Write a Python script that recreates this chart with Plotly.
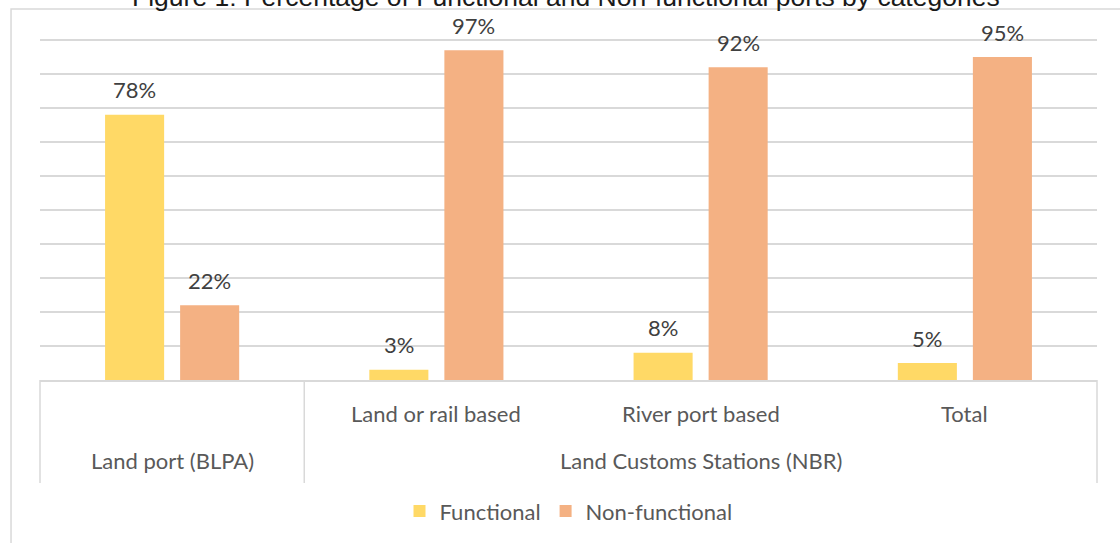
import plotly.graph_objects as go

# Categorias (nivel interno) e grupos (nivel externo)
CATEGORIAS = ["Land port (BLPA)", "Land or rail based", "River port based", "Total"]
ROTULOS_INTERNOS = ["", "Land or rail based", "River port based", "Total"]
GRUPOS = ["Land port (BLPA)", "Land Customs Stations (NBR)"]

FUNCIONAL = [78, 3, 8, 5]
NAO_FUNCIONAL = [22, 97, 92, 95]

COR_FUNC = "#FFD966"
COR_NAO_FUNC = "#F4B183"
FONTE = "Lato"
GRID = "#D9D9D9"

fig = go.Figure()
anotacoes = []
for nome, valores, cor, desloc in [
    ("Functional", FUNCIONAL, COR_FUNC, -37.5),
    ("Non-functional", NAO_FUNCIONAL, COR_NAO_FUNC, 37.5),
]:
    fig.add_trace(
        go.Bar(
            x=CATEGORIAS,
            y=valores,
            name=nome,
            marker=dict(color=cor, line=dict(width=0)),
        )
    )
    # rotulos de dados um pouco acima das barras, como no original
    for i, v in enumerate(valores):
        anotacoes.append(dict(x=i, y=v, xref="x", yref="y", text=f"{v}%",
                              showarrow=False, xshift=desloc, yshift=25,
                              yanchor="middle",
                              font=dict(family=FONTE, size=22, color="#404040")))

# rotulos do eixo x (dois niveis)
fonte_eixo = dict(family=FONTE, size=22, color="#595959")
for i, rot in enumerate(ROTULOS_INTERNOS):
    if rot:
        anotacoes.append(dict(x=i, y=-0.097, xref="x", yref="paper", text=rot,
                              showarrow=False, yanchor="middle", font=fonte_eixo))
anotacoes.append(dict(x=0, y=-0.235, xref="x", yref="paper", text=GRUPOS[0],
                      showarrow=False, yanchor="middle", font=fonte_eixo))
anotacoes.append(dict(x=2, y=-0.235, xref="x", yref="paper", text=GRUPOS[1],
                      showarrow=False, yanchor="middle", font=fonte_eixo))
anotacoes.append(dict(x=0.498, y=1.073, xref="paper", yref="paper",
                      text="Figure 1: Percentage of Functional and Non-functional ports by categories",
                      showarrow=False, yanchor="bottom",
                      font=dict(family="Liberation Sans", size=26.5, color="#1a1a1a")))

# linhas divisorias do eixo e moldura
linhas = [
    dict(type="line", xref="paper", yref="paper", x0=x, x1=x, y0=0, y1=-0.302,
         line=dict(color=GRID, width=1.5))
    for x in [0, 0.25, 1]
]
linhas.append(dict(type="rect", xref="paper", yref="paper", x0=-0.0274, x1=1.03,
                   y0=-0.5, y1=1.088, line=dict(color=GRID, width=1.5)))

fig.update_layout(
    width=1120,
    height=543,
    margin=dict(l=40, r=23, t=39, b=162),
    plot_bgcolor="white",
    paper_bgcolor="white",
    barmode="group",
    bargap=0.432,
    bargroupgap=0.213,
    showlegend=True,
    legend=dict(orientation="h", x=0.5, xanchor="center", xref="paper",
                y=-0.381, yanchor="middle",
                font=dict(family=FONTE, size=22, color="#595959"),
                itemwidth=30),
    xaxis=dict(showticklabels=False, showline=True, linecolor=GRID, linewidth=1.5,
               ticks="", showgrid=False),
    # range um pouco acima de 100 para a linha de grade do topo aparecer
    yaxis=dict(range=[0, 100.3], tick0=0, dtick=10, showticklabels=False, showgrid=True,
               gridcolor=GRID, gridwidth=1.5, zeroline=False),
    annotations=anotacoes,
    shapes=linhas,
)

# tira a margem padrao do body para o grafico ficar no canto
fig.write_html(
    "out.html",
    config={"displayModeBar": False},
    post_script="document.body.style.margin='0';document.body.style.overflow='hidden';",
)
